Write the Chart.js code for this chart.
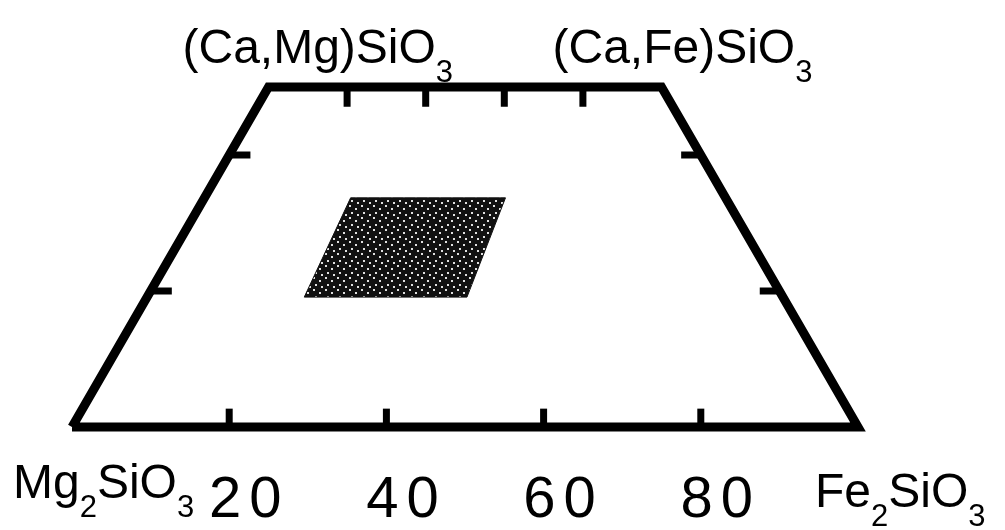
<!DOCTYPE html>
<html>
<head>
<meta charset="utf-8">
<script src="https://cdn.jsdelivr.net/npm/chart.js@4.4.1/dist/chart.umd.min.js"></script>
<style>
  html, body { margin: 0; padding: 0; background: #fff; }
</style>
</head>
<body>
<canvas id="quad" width="1005" height="530"></canvas>
<script>
// corners of the quadrilateral, in Fs and Wo mole %
const cornerNames = ['Mg2SiO3', '(Ca,Mg)SiO3', '(Ca,Fe)SiO3', 'Fe2SiO3'];
const cornerFs = [0, 0, 50, 100];
const cornerWo = [0, 50, 50, 0];

// tick marks along the edges
const bottomTicks = [20, 40, 60, 80];  // Fs %
const topTicks = [20, 40, 60, 80];     // Fs/(En+Fs) % on the Wo50 join
const sideTicks = [20, 40];            // Wo %
const tickLabels = ['20', '40', '60', '80'];

// shaded composition field
const fieldFs = [18.6, 38.3, 40.7, 20.0];
const fieldWo = [33.7, 33.7, 19.1, 19.1];

// ternary -> plot coords
const toXY = (fs, wo) => ({ x: fs + wo / 2, y: wo });

// speckled fill like the scanned screen
const tile = document.createElement('canvas');
tile.width = 12; tile.height = 12;
const tctx = tile.getContext('2d');
tctx.fillStyle = '#111';
tctx.fillRect(0, 0, 12, 12);
tctx.fillStyle = '#e0e0e0';
[[1, 1], [7, 4], [3, 8], [9, 10]].forEach(([a, b]) => tctx.fillRect(a, b, 2, 2));
const speckle = tctx.createPattern(tile, 'repeat');

const datasets = [];

// shaded field
const field = fieldFs.map((f, i) => toXY(f, fieldWo[i]));
field.push(field[0]);
datasets.push({
  data: field,
  showLine: true,
  fill: 'shape',
  backgroundColor: speckle,
  borderColor: '#111',
  borderWidth: 1,
  pointRadius: 0,
  clip: false,
});

// outline
const outline = [0, 1, 2, 3, 0].map(i => toXY(cornerFs[i], cornerWo[i]));
datasets.push({
  data: outline,
  showLine: true,
  borderColor: '#000',
  borderWidth: 9,
  borderJoinStyle: 'miter',
  pointRadius: 0,
  clip: false,
});

// tick segments
const tick = (a, b) => datasets.push({
  data: [a, b],
  showLine: true,
  borderColor: '#000',
  borderWidth: 7,
  borderCapStyle: 'butt',
  pointRadius: 0,
  clip: false,
});
bottomTicks.forEach(f => tick(toXY(f, 0), { x: f, y: 2.7 }));
topTicks.forEach(r => {
  const p = toXY(r / 2, 50);
  tick(p, { x: p.x, y: 47.1 });
});
sideTicks.forEach(w => {
  const l = toXY(0, w);
  tick(l, { x: l.x + 2.7, y: w });
  const r = toXY(100 - w, w);
  tick(r, { x: r.x - 2.5, y: w });
});

// label offsets from their corner, in px
const labelOffsets = [[-59, 71], [-86, -24], [-109, -24], [-43, 80]];

function drawFormula(ctx, text, x, y) {
  let cx = x;
  for (const ch of text) {
    const sub = /[0-9]/.test(ch);
    ctx.font = sub ? '31px "Liberation Sans", Arial, sans-serif' : '48px "Liberation Sans", Arial, sans-serif';
    ctx.fillText(ch, cx, sub ? y + 19 : y);
    cx += ctx.measureText(ch).width;
  }
}

const labelPlugin = {
  id: 'quadLabels',
  afterDatasetsDraw(chart) {
    const { ctx, scales: { x, y } } = chart;
    ctx.save();
    ctx.fillStyle = '#000';
    ctx.textBaseline = 'alphabetic';
    ctx.textAlign = 'left';
    cornerNames.forEach((name, i) => {
      const p = toXY(cornerFs[i], cornerWo[i]);
      drawFormula(ctx, name,
        x.getPixelForValue(p.x) + labelOffsets[i][0],
        y.getPixelForValue(p.y) + labelOffsets[i][1]);
    });
    ctx.font = '58px "Liberation Sans", Arial, sans-serif';
    ctx.letterSpacing = '8px';
    ctx.textAlign = 'center';
    bottomTicks.forEach((f, i) => {
      ctx.fillText(tickLabels[i], x.getPixelForValue(f) + 20, y.getPixelForValue(0) + 90);
    });
    ctx.restore();
  }
};

new Chart(document.getElementById('quad'), {
  type: 'scatter',
  data: { datasets },
  options: {
    responsive: false,
    animation: false,
    layout: { padding: { left: 72, right: 147, top: 87, bottom: 103 } },
    scales: {
      x: { type: 'linear', min: 0, max: 100, display: false },
      y: { type: 'linear', min: 0, max: 50, display: false }
    },
    plugins: {
      legend: { display: false },
      tooltip: { enabled: false }
    }
  },
  plugins: [labelPlugin]
});
</script>
</body>
</html>
